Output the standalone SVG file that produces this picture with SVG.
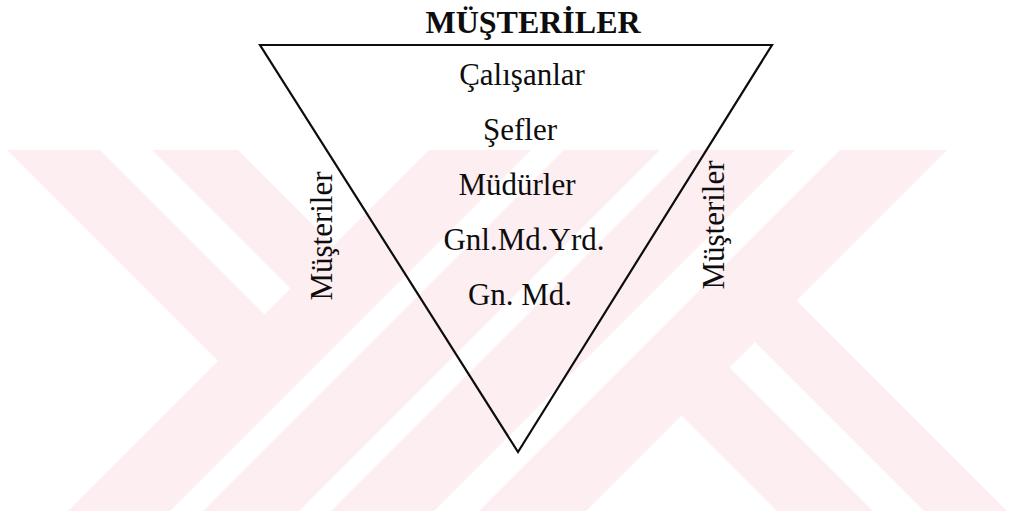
<svg xmlns="http://www.w3.org/2000/svg" width="1009" height="515" viewBox="0 0 1009 515">
  <style>
    .wm { fill: #fdeef1; }
    .lbl { font-family: "Liberation Serif", "Times New Roman", serif; font-size: 31px; fill: #0d0d0d; text-anchor: middle; }
    .title { font-family: "Liberation Serif", "Times New Roman", serif; font-size: 32px; font-weight: bold; fill: #0d0d0d; text-anchor: middle; }
    .tri { fill: none; stroke: #0d0d0d; stroke-width: 2.2; stroke-linejoin: miter; }
  </style>
  <defs>
    <clipPath id="wmclip">
      <rect x="0" y="150" width="1009" height="361"/>
    </clipPath>
  </defs>
  <rect width="1009" height="515" fill="#ffffff"/>
  <g id="watermark" clip-path="url(#wmclip)">
    <polygon class="wm" points="429,150 531,150 170,511 68,511"/>
    <polygon class="wm" points="564,150 660,150 299,511 203,511"/>
    <polygon class="wm" points="692,150 795,150 434,511 331,511"/>
    <polygon class="wm" points="840,150 947,150 586,511 479,511"/>
    <polygon class="wm" points="7,150 100,150 267.5,317.5 221,364"/>
    <polygon class="wm" points="152,150 238,150 336.5,248.5 293.5,291.5"/>
    <polygon class="wm" points="752.5,339.5 794,298 1007,511 924,511"/>
    <polygon class="wm" points="679,413 727,365 873,511 777,511"/>
  </g>
  <g id="pyramid">
    <polygon class="tri" points="260,45 772,45 518,452"/>
  </g>
  <g id="title">
    <text class="title" x="533" y="33">MÜŞTERİLER</text>
  </g>
  <g id="level-calisanlar"><text class="lbl" x="522" y="85">Çalışanlar</text></g>
  <g id="level-sefler"><text class="lbl" x="520" y="140">Şefler</text></g>
  <g id="level-mudurler"><text class="lbl" x="517" y="195">Müdürler</text></g>
  <g id="level-gnlmdyrd"><text class="lbl" x="524" y="250">Gnl.Md.Yrd.</text></g>
  <g id="level-gnmd"><text class="lbl" x="520" y="305">Gn. Md.</text></g>
  <g id="side-left"><text class="lbl" transform="translate(332,236) rotate(-90)">Müşteriler</text></g>
  <g id="side-right"><text class="lbl" transform="translate(724,225) rotate(-90)">Müşteriler</text></g>
</svg>
